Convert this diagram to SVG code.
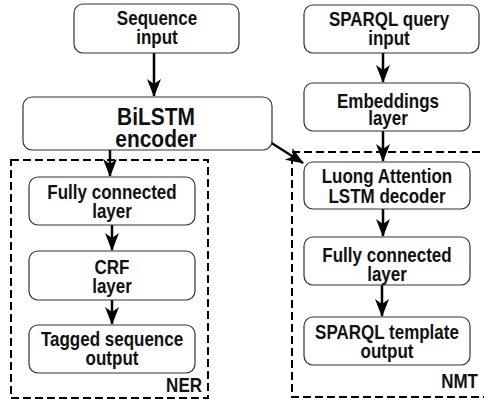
<svg xmlns="http://www.w3.org/2000/svg" width="484" height="399" viewBox="0 0 484 399">
<style>
.box{fill:#fff;stroke:#333;stroke-width:1.2}
.grp{fill:none;stroke:#000;stroke-width:2;stroke-dasharray:8,4}
.t{font-family:"Liberation Sans",Arial,sans-serif;font-weight:bold;font-size:20px;fill:#111;text-anchor:middle}
.big{font-size:23px}
.lbl{text-anchor:end}
.c{stroke:#000;stroke-width:2.5;fill:none;marker-end:url(#ah)}
</style>
<defs>
<marker id="ah" markerUnits="userSpaceOnUse" markerWidth="20" markerHeight="16" refX="17" refY="7" orient="auto">
<path d="M0,0 L18,7 L0,14 L5,7 Z" fill="#000"/>
</marker>
</defs>
<g id="groups">
<rect class="grp" x="11" y="160" width="197" height="238"/>
<path class="grp" d="M492,152 H292 V397 H492"/>
<text class="t lbl" transform="matrix(0.85,0,0,1,202,392)">NER</text>
<text class="t lbl" transform="matrix(0.85,0,0,1,478,388)">NMT</text>
</g>
<g id="connectors">
<line class="c" x1="154" y1="53" x2="154" y2="96"/>
<line class="c" x1="110" y1="150" x2="110" y2="176"/>
<line class="c" x1="112" y1="225" x2="112" y2="250"/>
<line class="c" x1="112" y1="300" x2="112" y2="324"/>
<line class="c" x1="383" y1="53" x2="383" y2="82"/>
<line class="c" x1="383" y1="131" x2="383" y2="161"/>
<line class="c" x1="383" y1="209" x2="383" y2="236"/>
<line class="c" x1="382" y1="285" x2="382" y2="316"/>
<line class="c" x1="270" y1="142" x2="303" y2="163"/>
</g>
<g id="seq-input">
<rect class="box" x="74" y="4" width="165" height="49" rx="9"/>
<text class="t" transform="matrix(0.85,0,0,1,157,25)">Sequence</text>
<text class="t" transform="matrix(0.85,0,0,1,157,44)">input</text>
</g>
<g id="bilstm">
<rect class="box" x="23" y="97" width="249" height="53" rx="9"/>
<text class="t big" transform="matrix(0.91,0,0,1,156,125)">BiLSTM</text>
<text class="t big" transform="matrix(0.91,0,0,1,156,147)">encoder</text>
</g>
<g id="ner-fc">
<rect class="box" x="29" y="177" width="166" height="48" rx="9"/>
<text class="t" transform="matrix(0.85,0,0,1,112,199)">Fully connected</text>
<text class="t" transform="matrix(0.85,0,0,1,112,218)">layer</text>
</g>
<g id="crf">
<rect class="box" x="29" y="251" width="166" height="49" rx="9"/>
<text class="t" transform="matrix(0.85,0,0,1,112,274)">CRF</text>
<text class="t" transform="matrix(0.85,0,0,1,112,293)">layer</text>
</g>
<g id="tagged">
<rect class="box" x="29" y="325" width="166" height="48" rx="9"/>
<text class="t" transform="matrix(0.85,0,0,1,112,346)">Tagged sequence</text>
<text class="t" transform="matrix(0.85,0,0,1,112,365)">output</text>
</g>
<g id="sparql-input">
<rect class="box" x="304" y="5" width="175" height="48" rx="9"/>
<text class="t" transform="matrix(0.85,0,0,1,389,26)">SPARQL query</text>
<text class="t" transform="matrix(0.85,0,0,1,389,45)">input</text>
</g>
<g id="embeddings">
<rect class="box" x="304" y="83" width="166" height="48" rx="9"/>
<text class="t" transform="matrix(0.85,0,0,1,388,108)">Embeddings</text>
<text class="t" transform="matrix(0.85,0,0,1,388,125)">layer</text>
</g>
<g id="luong">
<rect class="box" x="304" y="162" width="166" height="47" rx="9"/>
<text class="t" transform="matrix(0.85,0,0,1,387,183)">Luong Attention</text>
<text class="t" transform="matrix(0.85,0,0,1,387,203)">LSTM decoder</text>
</g>
<g id="nmt-fc">
<rect class="box" x="304" y="237" width="166" height="48" rx="9"/>
<text class="t" transform="matrix(0.85,0,0,1,387,262)">Fully connected</text>
<text class="t" transform="matrix(0.85,0,0,1,387,281)">layer</text>
</g>
<g id="template">
<rect class="box" x="304" y="317" width="166" height="48" rx="9"/>
<text class="t" transform="matrix(0.85,0,0,1,387,339)">SPARQL template</text>
<text class="t" transform="matrix(0.85,0,0,1,387,358)">output</text>
</g>
</svg>
